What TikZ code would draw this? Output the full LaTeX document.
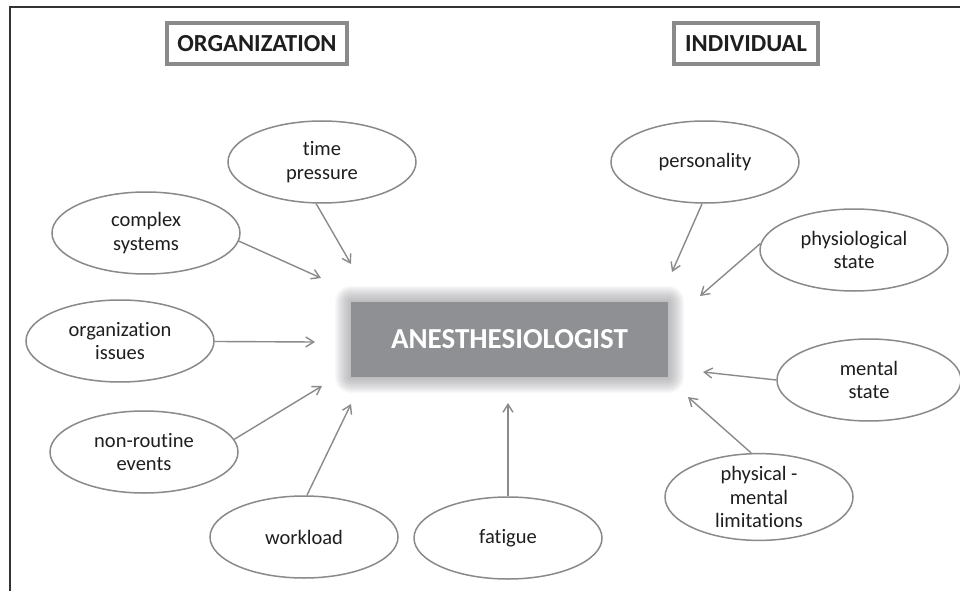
\documentclass[tikz,border=0pt]{standalone}
\usepackage{fontspec}
\setmainfont{Carlito}[Ligatures=NoCommon]
\usetikzlibrary{shapes.geometric,arrows.meta}
\definecolor{linegray}{HTML}{8A8A8A}
\definecolor{framegray}{HTML}{333333}
\definecolor{boxgray}{HTML}{8F9094}
\definecolor{glowgray}{HTML}{9C9CA2}
\definecolor{textdark}{HTML}{1E1E1E}
\tikzset{
  factor/.style={ellipse, draw=linegray, line width=1.5pt, fill=white,
    minimum width=188pt, minimum height=82pt, inner sep=0pt,
    align=center, text=textdark, font=\fontsize{20.5}{23.5}\selectfont},
  heading/.style={draw=linegray, line width=3.5pt, fill=white,
    minimum height=41pt, inner sep=0pt, text=textdark,
    font=\fontsize{24.5}{28}\selectfont\bfseries},
  influence/.style={draw=linegray, line width=1.4pt,
    -{Straight Barb[length=8pt,width=10pt,line width=1.4pt]}},
}
\begin{document}
\begin{tikzpicture}[x=1pt,y=-1pt]
\useasboundingbox (0,0) rectangle (960,591);
\fill[white] (0,0) rectangle (960,591);
% open frame: top and left rules
\draw[framegray, line width=2pt] (10,591) -- (10,7) -- (960,7);

% headings
\node[heading, minimum width=180pt] (org) at (257,43.5) {ORGANIZATION};
\node[heading, minimum width=144pt] (ind) at (746,43.5) {INDIVIDUAL};

% soft halo around the central box
\foreach \g in {16,15,...,1}{
  \fill[glowgray, opacity=0.055, rounded corners=\g pt]
    (351-\g,302-\g) rectangle (668+\g,377+\g);
}
\node[fill=boxgray, minimum width=317pt, minimum height=75pt, inner sep=0pt,
      text=white, font=\fontsize{29}{34}\selectfont\bfseries]
      (anes) at (509.5,339.5) {ANESTHESIOLOGIST};

% organizational factors
\node[factor] (tp) at (322,162) {time\\pressure};
\node[factor] (cs) at (146,233) {complex\\systems};
\node[factor] (oi) at (120,341) {organization\\issues};
\node[factor] (nr) at (144,452) {non-routine\\events};
\node[factor] (wl) at (304,537) {workload};
\node[factor] (fa) at (508,538) {fatigue};

% individual factors
\node[factor] (pe) at (705,162) {personality};
\node[factor] (ps) at (854,250) {physiological\\state};
\node[factor, minimum width=184pt] (ms) at (869,380) {mental\\state};
\node[factor] (pm) at (759,497) {physical -\\mental\\limitations};

% arrow targets around the central box
\coordinate (tTP) at (351,264);
\coordinate (tCS) at (321,278);
\coordinate (tOI) at (315,342);
\coordinate (tNR) at (322,386);
\coordinate (tWL) at (351,404);
\coordinate (tFA) at (508,403);
\coordinate (tPE) at (672,272);
\coordinate (tPS) at (700,296);
\coordinate (tMS) at (703,372);
\coordinate (tPM) at (688,397);

\draw[influence] (tp.-98) -- (tTP);
\draw[influence] (cs.-5) -- (tCS);
\draw[influence] (oi) -- (tOI);
\draw[influence] (nr.8) -- (tNR);
\draw[influence] (wl.86) -- (tWL);
\draw[influence] (fa) -- (tFA);
\draw[influence] (pe.-94) -- (tPE);
\draw[influence] (ps.176) -- (tPS);
\draw[influence] (ms.west) -- (tMS);
\draw[influence] (pm.100) -- (tPM);
\end{tikzpicture}
\end{document}
